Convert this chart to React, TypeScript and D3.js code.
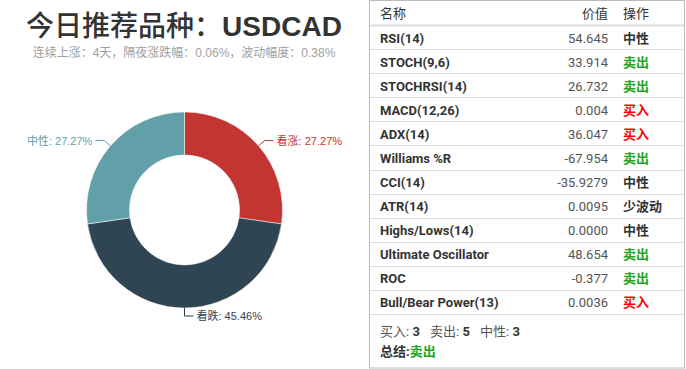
import React from 'react';
import * as d3 from 'd3';

const width = 686;
const height = 369;

const titleName = '今日推荐品种：';
const symbol = 'USDCAD';
const subtitle = '连续上涨：4天，隔夜涨跌幅：0.06%，波动幅度：0.38%';

const sliceNames = ['看涨', '看跌', '中性'];
const sliceValues = [3, 5, 3];
const sliceColors = ['#c23531', '#2f4554', '#61a0a8'];

const indicatorNames = [
  'RSI(14)', 'STOCH(9,6)', 'STOCHRSI(14)', 'MACD(12,26)', 'ADX(14)', 'Williams %R',
  'CCI(14)', 'ATR(14)', 'Highs/Lows(14)', 'Ultimate Oscillator', 'ROC', 'Bull/Bear Power(13)',
];
const indicatorValues = [
  '54.645', '33.914', '26.732', '0.004', '36.047', '-67.954',
  '-35.9279', '0.0095', '0.0000', '48.654', '-0.377', '0.0036',
];
const indicatorActions = [
  '中性', '卖出', '卖出', '买入', '买入', '卖出',
  '中性', '少波动', '中性', '卖出', '卖出', '买入',
];
const summaryLabels = ['买入', '卖出', '中性'];
const summaryCounts = [3, 5, 3];
const verdict = '卖出';

const actionColor = (a: string) => (a === '卖出' ? '#22a522' : a === '买入' ? '#ff0000' : '#333');

// largest remainder, like echarts' percent precision
const percents = (vals: number[], digits = 2) => {
  const sum = d3.sum(vals);
  const unit = Math.pow(10, digits);
  const seats = vals.map(v => (v / sum) * 100 * unit);
  const floors = seats.map(Math.floor);
  let left = 100 * unit - d3.sum(floors);
  const order = d3.range(vals.length).sort((a, b) => (seats[b] - floors[b]) - (seats[a] - floors[a]));
  order.forEach(i => { if (left > 0) { floors[i] += 1; left -= 1; } });
  return floors.map(f => (f / unit).toFixed(digits));
};

const cjk = '"Noto Sans CJK SC", sans-serif';
const latin = '"Liberation Sans", "Noto Sans CJK SC", sans-serif';
const tableFont = 'Roboto, "Noto Sans CJK SC", sans-serif';

const App = () => {
  const cx = 184.5, cy = 210;
  const inner = 55, outer = 98;
  const pie = d3.pie<number>().sort(null).value(d => d);
  const arcs = pie(sliceValues);
  const arc = d3.arc<d3.PieArcDatum<number>>().innerRadius(inner).outerRadius(outer);
  const pct = percents(sliceValues);

  const tx0 = 369, tx1 = 685;
  // rounded so text sits on whole pixels and stays crisp
  const rowY = d3.scaleBand<string>().domain(indicatorNames).range([26, 315]);

  return (
    <svg width={width} height={height} style={{ position: 'absolute', left: 0, top: 0 }}>
      <text x={184} y={36} textAnchor="middle" fontSize={28} fill="#333" fontFamily={latin}>
        <tspan fontFamily={cjk} fontWeight={500}>{titleName}</tspan>
        <tspan fontWeight="bold">{symbol}</tspan>
      </text>
      <text x={184} y={57} textAnchor="middle" fontSize={12} fill="#a0a0a0" fontFamily={latin}>{subtitle}</text>

      <g transform={`translate(${cx},${cy})`}>
        {arcs.map((a, i) => (
          <path key={i} d={arc(a) || ''} fill={sliceColors[i]} stroke="#fff" strokeWidth={0.5} />
        ))}
        {arcs.map((a, i) => {
          const mid = (a.startAngle + a.endAngle) / 2;
          const sx = Math.sin(mid), sy = -Math.cos(mid);
          const p1 = [sx * outer, sy * outer];
          const p2 = [sx * (outer + 8), sy * (outer + 8)];
          const dir = sx < -1e-6 ? -1 : 1;
          const p3 = [p2[0] + dir * 9, p2[1]];
          return (
            <g key={i}>
              <polyline points={[p1, p2, p3].map(p => p.join(',')).join(' ')} fill="none" stroke={sliceColors[i]} strokeWidth={1} />
              <text x={p3[0] + dir * 3} y={Math.round(p3[1] + 4)} textAnchor={dir < 0 ? 'end' : 'start'} fontSize={11} fill={sliceColors[i]} fontFamily={latin}>
                {`${sliceNames[i]}: ${pct[i]}%`}
              </text>
            </g>
          );
        })}
      </g>

      <g fontFamily={tableFont} fontSize={13}>
        <rect x={tx0 + 0.5} y={0.5} width={tx1 - tx0 - 1} height={height - 1.5} fill="#fff" stroke="#bbb" />
        <text x={380} y={18} fill="#333">名称</text>
        <text x={608} y={18} fill="#333" textAnchor="end">价值</text>
        <text x={623} y={18} fill="#333">操作</text>
        <line x1={tx0 + 1} x2={tx1 - 1} y1={25.5} y2={25.5} stroke="#ddd" strokeWidth={2} />
        {indicatorNames.map((n, i) => {
          const y = rowY(n) as number;
          const h = rowY.bandwidth();
          const base = Math.round(y + h / 2 + 4.5);
          const sep = Math.round(y + h) - 0.5;
          return (
            <g key={n}>
              <text x={380} y={base} fill="#333" fontWeight={700}>{n}</text>
              <text x={608} y={base} fill="#555" textAnchor="end">{indicatorValues[i]}</text>
              <text x={623} y={base} fill={actionColor(indicatorActions[i])} fontWeight={700}>{indicatorActions[i]}</text>
              <line x1={tx0 + 1} x2={tx1 - 1} y1={sep} y2={sep} stroke="#ddd" />
            </g>
          );
        })}
        {summaryLabels.map((l, i) => (
          <text key={l} x={380 + i * 50} y={336} fill="#555">
            {l}: <tspan fontWeight={700} fill="#333">{summaryCounts[i]}</tspan>
          </text>
        ))}
        <text x={380} y={356} fontWeight={700} fill="#333">
          总结:<tspan fill={actionColor(verdict)}>{verdict}</tspan>
        </text>
      </g>
    </svg>
  );
};

export default App;
